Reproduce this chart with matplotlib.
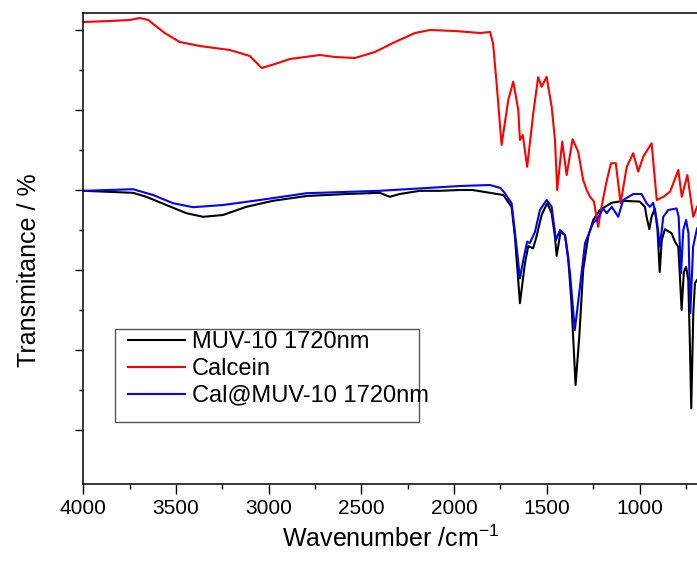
import numpy as np
import matplotlib
matplotlib.use("Agg")
import matplotlib.pyplot as plt
from matplotlib.patches import Rectangle
from matplotlib.ticker import MultipleLocator, FixedLocator, NullFormatter

plt.rcParams['font.family'] = ['Liberation Sans', 'DejaVu Sans']
plt.rcParams['mathtext.default'] = 'regular'

# FTIR spectra (wavenumber in cm-1, transmittance in arbitrary units)
muv_wn = [4000, 3732, 3660, 3552, 3444, 3354, 3247, 3120, 2977, 2796, 2580, 2401, 2347, 2293,
          2185, 2077, 1969, 1900, 1807, 1735, 1690, 1672, 1645, 1618, 1600, 1574, 1556, 1528,
          1498, 1474, 1456, 1447, 1426, 1402, 1385, 1367, 1345, 1325, 1304, 1277, 1250, 1214,
          1150, 1088, 998, 971, 962, 947, 935, 917, 903, 891, 880, 863, 827, 809, 791, 782,
          773, 761, 749, 737, 728, 721, 710, 701, 690]
muv_t = [59.3, 58.8, 57.8, 55.75, 53.7, 52.8, 53.25, 55.3, 56.8, 58.0, 58.5, 58.8, 57.8, 58.5,
         59.3, 59.3, 59.5, 59.5, 58.8, 58.25, 55.3, 47.8, 31.2, 41.2, 45.5, 44.9, 47.8, 53.25,
         56.2, 53.7, 47.8, 43.0, 49.0, 48.25, 42.8, 31.2, 10.75, 22.8, 39.5, 47.8, 52.0, 54.5,
         56.3, 56.8, 56.6, 55.3, 52.8, 49.7, 52.8, 54.9, 49.5, 39.0, 47.0, 49.7, 48.7, 46.6,
         45.3, 37.8, 29.5, 39.0, 40.3, 37.0, 20.3, 4.9, 28.7, 36.2, 37.0]

calcein_wn = [4000, 3858, 3750, 3696, 3650, 3561, 3480, 3372, 3210, 3102, 3038, 2967, 2886,
              2724, 2643, 2535, 2427, 2319, 2211, 2130, 1995, 1860, 1806, 1790, 1771, 1744,
              1708, 1681, 1654, 1645, 1630, 1606, 1573, 1547, 1528, 1501, 1474, 1456, 1444,
              1417, 1393, 1361, 1331, 1304, 1285, 1267, 1246, 1223, 1205, 1178, 1154, 1128,
              1102, 1069, 1034, 1007, 980, 935, 907, 871, 835, 791, 772, 742, 710, 690]
calcein_t = [101.5, 101.75, 102.0, 102.5, 102.0, 98.75, 96.5, 95.5, 94.5, 93.0, 90.0, 91.0, 92.25,
             93.25, 92.75, 92.5, 94.0, 96.5, 98.75, 99.5, 99.25, 98.75, 99.0, 96.2, 86.25, 70.75,
             82.0, 86.6, 79.5, 72.0, 73.25, 65.3, 78.7, 87.7, 85.3, 87.8, 80.3, 72.0, 59.5,
             71.6, 63.25, 72.2, 69.1, 62.0, 59.5, 57.8, 56.6, 50.3, 55.3, 61.6, 66.2, 66.2,
             56.2, 65.3, 68.7, 64.1, 67.8, 71.2, 57.0, 57.8, 59.1, 64.5, 57.8, 63.25, 52.8, 55.3]

cal_wn = [4000, 3732, 3624, 3516, 3408, 3247, 3048, 2796, 2401, 2185, 1969, 1807, 1750, 1726,
          1717, 1690, 1663, 1645, 1627, 1606, 1592, 1564, 1537, 1501, 1474, 1451, 1429, 1402,
          1375, 1349, 1321, 1294, 1250, 1232, 1196, 1177, 1150, 1133, 1115, 1088, 1034, 989,
          962, 944, 926, 905, 890, 872, 845, 800, 789, 776, 764, 749, 736, 726, 711, 690]
cal_t = [59.3, 59.7, 58.25, 56.2, 55.2, 55.75, 57.0, 58.7, 59.3, 59.9, 60.5, 60.75, 60.0, 58.7,
         58.0, 56.2, 45.3, 37.4, 42.0, 46.6, 46.2, 49.0, 54.5, 57.0, 55.3, 47.0, 49.5, 48.25,
         38.7, 24.5, 35.4, 46.2, 51.3, 52.0, 54.9, 53.7, 55.3, 54.1, 52.8, 57.0, 58.5, 58.5,
         56.2, 55.3, 56.3, 51.2, 45.3, 52.8, 54.5, 54.9, 52.8, 38.7, 49.5, 52.0, 48.7, 28.7, 45.3, 49.9]

labels = ['MUV-10 1720nm', 'Calcein', 'Cal@MUV-10 1720nm']
colors = ['black', 'red', 'blue']

fig = plt.figure(figsize=(6.97, 5.63), dpi=100)
ax = fig.add_axes([0.1195, 0.1403, 0.8805, 0.8366])

ax.plot(muv_wn, muv_t, color=colors[0], lw=1.5, label=labels[0])
ax.plot(calcein_wn, calcein_t, color=colors[1], lw=1.5, label=labels[1])
ax.plot(cal_wn, cal_t, color=colors[2], lw=1.5, label=labels[2])

ax.set_xlim(4000, 690)
ax.set_ylim(-14, 103.75)

ax.xaxis.set_major_locator(MultipleLocator(500))
ax.xaxis.set_minor_locator(MultipleLocator(250))
ax.yaxis.set_major_locator(FixedLocator(np.arange(-0.5, 103, 20)))
ax.yaxis.set_minor_locator(FixedLocator(np.arange(9.5, 103, 20)))
ax.yaxis.set_major_formatter(NullFormatter())

ax.tick_params(axis='both', which='major', direction='out', length=7, width=1, labelsize=15, pad=4)
ax.tick_params(axis='both', which='minor', direction='out', length=3.6, width=1)
ax.tick_params(axis='y', which='major', length=6)
ax.tick_params(axis='y', which='minor', length=2.8)

for s in ['left', 'bottom', 'top']:
    ax.spines[s].set_linewidth(1.1)
ax.spines['right'].set_visible(False)

ax.set_xlabel('Wavenumber /cm$^{-1}$', fontsize=18, labelpad=5)
ax.set_ylabel('Transmitance / %', fontsize=18)
ax.yaxis.set_label_coords(-0.069, 0.453)

# legend (Origin style box, narrower than the longest entry)
ax.legend(loc='upper left', bbox_to_anchor=(0.0728, 0.324), frameon=False, fontsize=17,
          handlelength=2.4, handletextpad=0.3, labelspacing=0.2, borderpad=0, borderaxespad=0)
ax.add_patch(Rectangle((0.0517, 0.1316), 0.4953, 0.1974, transform=ax.transAxes,
                       fill=False, edgecolor='#555555', lw=1, zorder=5))

fig.savefig('out.png', dpi=100)
